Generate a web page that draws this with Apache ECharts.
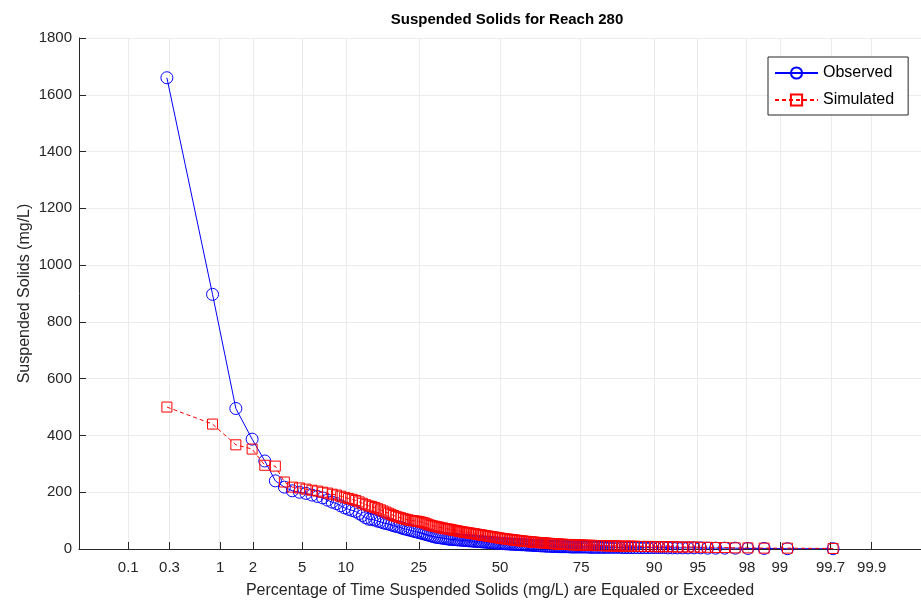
<!DOCTYPE html>
<html>
<head>
<meta charset="utf-8">
<script src="https://cdn.jsdelivr.net/npm/echarts@6/dist/echarts.min.js"></script>
<style>
  html, body { margin: 0; padding: 0; background: #fff; }
  #chart { width: 921px; height: 604px; }
</style>
</head>
<body>
<div id="chart"></div>
<script>
// probability axis ticks (percent exceeded)
var tickPct = [0.1, 0.3, 1, 2, 5, 10, 25, 50, 75, 90, 95, 98, 99, 99.7, 99.9];
var tickLabels = ['0.1', '0.3', '1', '2', '5', '10', '25', '50', '75', '90', '95', '98', '99', '99.7', '99.9'];

// sorted concentrations (mg/L), largest first
var observed = [
    1660, 897, 495, 387, 310, 240, 218, 205, 200, 196,
    190, 185, 180, 172, 165, 160, 152, 145, 140, 136,
    132, 125, 118, 110, 105, 104, 102, 98, 96, 92,
    90, 88, 85, 82, 80, 78, 75, 72, 70, 68,
    66, 64, 62, 60, 58, 56, 54, 52, 50, 48,
    46, 44, 42, 41, 40, 39, 38, 37, 36, 35,
    34, 34, 33, 33, 32, 32, 31, 31, 30, 30,
    29, 29, 28, 28, 27, 27, 26, 26, 25, 25,
    24, 24, 23, 23, 22, 22, 21, 21, 20, 20,
    19, 19, 18, 18, 18, 17, 17, 17, 16, 16,
    16, 15, 15, 15, 14, 14, 14, 13, 13, 12,
    12, 12, 11, 11, 11, 10, 10, 10, 9, 9,
    9, 9, 8, 8, 8, 8, 8, 8, 7, 7,
    7, 7, 7, 7, 7, 7, 7, 6, 6, 6,
    6, 6, 6, 6, 6, 6, 6, 6, 6, 6,
    5, 5, 5, 5, 5, 5, 5, 5, 5, 5,
    5, 5, 5, 4, 4, 4, 4, 4, 4, 4,
    3, 3, 3, 3, 2, 2, 1, 1
];
var simulated = [
    500, 440, 367, 352, 295, 292, 236, 218, 215, 211,
    207, 204, 200, 197, 193, 190, 186, 182, 178, 175,
    171, 166, 161, 156, 152, 150, 146, 142, 138, 134,
    130, 126, 122, 118, 115, 112, 110, 107, 105, 103,
    101, 100, 99, 98, 97, 95, 93, 91, 88, 85,
    83, 81, 80, 78, 77, 75, 74, 72, 71, 70,
    69, 67, 66, 65, 64, 62, 61, 60, 59, 58,
    57, 56, 55, 54, 53, 52, 51, 50, 49, 48,
    47, 46, 45, 44, 43, 42, 41, 40, 39, 38,
    37, 36, 35, 35, 34, 33, 32, 32, 31, 30,
    29, 29, 28, 27, 27, 26, 25, 25, 24, 24,
    23, 23, 22, 22, 21, 21, 20, 20, 19, 19,
    18, 18, 17, 17, 17, 16, 16, 16, 15, 15,
    15, 14, 14, 14, 14, 13, 13, 13, 13, 12,
    12, 12, 12, 12, 11, 11, 11, 11, 11, 10,
    10, 10, 10, 10, 10, 9, 9, 9, 9, 9,
    8, 8, 8, 8, 8, 7, 7, 7, 7, 6,
    6, 5, 5, 4, 4, 3, 3, 2
];

// inverse normal cdf (Acklam) -> probability axis
function probit(p) {
    var a = [-39.69683028665376, 220.9460984245205, -275.9285104469687, 138.3577518672690, -30.66479806614716, 2.506628277459239];
    var b = [-54.47609879822406, 161.5858368580409, -155.6989798598866, 66.80131188771972, -13.28068155288572];
    var c = [-0.007784894002430293, -0.3223964580411365, -2.400758277161838, -2.549732539343734, 4.374664141464968, 2.938163982698783];
    var d = [0.007784695709041462, 0.3224671290700398, 2.445134137142996, 3.754408661907416];
    var q, r;
    if (p < 0.02425) {
        q = Math.sqrt(-2 * Math.log(p));
        return (((((c[0]*q+c[1])*q+c[2])*q+c[3])*q+c[4])*q+c[5]) / ((((d[0]*q+d[1])*q+d[2])*q+d[3])*q+1);
    }
    if (p > 1 - 0.02425) {
        q = Math.sqrt(-2 * Math.log(1 - p));
        return -(((((c[0]*q+c[1])*q+c[2])*q+c[3])*q+c[4])*q+c[5]) / ((((d[0]*q+d[1])*q+d[2])*q+d[3])*q+1);
    }
    q = p - 0.5; r = q * q;
    return (((((a[0]*r+a[1])*r+a[2])*r+a[3])*r+a[4])*r+a[5])*q / (((((b[0]*r+b[1])*r+b[2])*r+b[3])*r+b[4])*r+1);
}

// exceedance percentage of each ranked value: (rank - 0.5) / n
function toPoints(vals) {
    var n = vals.length;
    return vals.map(function (v, i) {
        return [probit((i + 0.5) / n), v];
    });
}

var tickZ = tickPct.map(function (p) { return probit(p / 100); });
var font = "'Liberation Sans', Arial, Helvetica, sans-serif";
var axisColor = '#262626';

var chart = echarts.init(document.getElementById('chart'));
var option = {
    animation: false,
    title: {
        text: 'Suspended Solids for Reach 280',
        left: 502,
        textAlign: 'center',
        top: 7,
        textStyle: { fontFamily: font, fontSize: 15, fontWeight: 'bold', color: '#000' }
    },
    legend: {
        data: ['Observed', 'Simulated'],
        orient: 'vertical',
        left: 768,
        top: 57,
        itemWidth: 43,
        itemHeight: 14,
        itemGap: 11,
        padding: [8, 14, 7, 6],
        backgroundColor: '#fff',
        borderColor: '#262626',
        borderWidth: 1,
        borderRadius: 0,
        textStyle: { fontFamily: font, fontSize: 16, color: '#000' }
    },
    grid: { left: 79, right: -5, top: 38, bottom: 54 },
    xAxis: {
        type: 'value',
        min: -3.5,
        max: 3.5,
        name: 'Percentage of Time Suspended Solids (mg/L) are Equaled or Exceeded',
        nameLocation: 'middle',
        nameGap: 34,
        nameMoveOverlap: false,
        nameTextStyle: { fontFamily: font, fontSize: 16, color: axisColor },
        axisLine: { show: true, onZero: false, lineStyle: { color: axisColor } },
        axisTick: { show: true, inside: true, length: 7, customValues: tickZ, lineStyle: { color: axisColor } },
        axisLabel: {
            customValues: tickZ,
            margin: 11,
            fontFamily: font,
            fontSize: 15,
            color: axisColor,
            formatter: function (v) {
                for (var i = 0; i < tickZ.length; i++) {
                    if (Math.abs(tickZ[i] - v) < 1e-6) return tickLabels[i];
                }
                return '';
            }
        },
        splitLine: { show: false }
    },
    yAxis: {
        type: 'value',
        min: 0,
        max: 1800,
        interval: 200,
        name: 'Suspended Solids (mg/L)',
        nameLocation: 'middle',
        nameGap: 46,
        nameMoveOverlap: false,
        nameTextStyle: { fontFamily: font, fontSize: 16, color: axisColor },
        axisLine: { show: true, onZero: false, lineStyle: { color: axisColor } },
        axisTick: { show: true, inside: true, length: 7, lineStyle: { color: axisColor } },
        axisLabel: {
            margin: 7, fontFamily: font, fontSize: 15, color: axisColor,
            formatter: function (v) { return String(v); }
        },
        splitLine: { show: true, lineStyle: { color: '#ebebeb', width: 1 } }
    },
    series: [
        {
            // vertical grid lines at probability ticks
            name: 'grid',
            type: 'line',
            data: [],
            z: 1,
            silent: true,
            markLine: {
                z: 0,
                silent: true,
                symbol: ['none', 'none'],
                label: { show: false },
                lineStyle: { color: '#ebebeb', type: 'solid', width: 1 },
                data: tickZ.map(function (z) { return { xAxis: z }; })
            }
        },
        {
            name: 'Observed',
            type: 'line',
            z: 2,
            data: toPoints(observed),
            symbol: 'circle',
            symbolSize: 12,
            showAllSymbol: true,
            itemStyle: { color: 'rgba(0,0,0,0)', borderColor: '#0000ff', borderWidth: 1 },
            lineStyle: { color: '#0000ff', width: 1 }
        },
        {
            name: 'Simulated',
            type: 'line',
            z: 3,
            data: toPoints(simulated),
            symbol: 'rect',
            symbolSize: 10,
            showAllSymbol: true,
            itemStyle: { color: 'rgba(0,0,0,0)', borderColor: '#ff0000', borderWidth: 1 },
            lineStyle: { color: '#ff0000', width: 1, type: [4, 3] }
        }
    ]
};
chart.setOption(option);
</script>
</body>
</html>
